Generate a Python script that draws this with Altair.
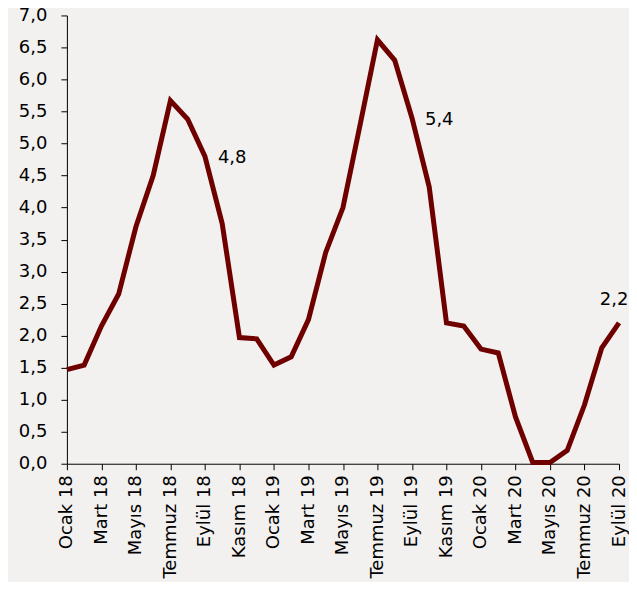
import altair as alt
import pandas as pd

months = ["Ocak", "Şubat", "Mart", "Nisan", "Mayıs", "Haziran", "Temmuz",
          "Ağustos", "Eylül", "Ekim", "Kasım", "Aralık"]
periods = [f"{months[i % 12]} {18 + i // 12}" for i in range(33)]
values = [1.47, 1.54, 2.15, 2.65, 3.70, 4.50, 5.67, 5.38, 4.80, 3.75, 1.97,
          1.95, 1.54, 1.67, 2.25, 3.30, 4.00, 5.30, 6.62, 6.30, 5.40, 4.32,
          2.20, 2.15, 1.79, 1.73, 0.73, 0.02, 0.02, 0.21, 0.92, 1.81, 2.20]
label_periods = ["Eylül 18", "Eylül 19", "Eylül 20"]
label_texts = ["4,8", "5,4", "2,2"]
tick_periods = periods[::2]

df = pd.DataFrame({"period": periods, "value": values})
lab = pd.DataFrame({"period": label_periods, "text": label_texts,
                    "value": [values[periods.index(p)] for p in label_periods]})

FONT = "DejaVu Sans"
FS = 18
x = alt.X("period:N", sort=periods, title=None,
          scale=alt.Scale(type="point", padding=0),
          axis=alt.Axis(values=tick_periods, labelAngle=-90, labelAlign="right",
                        labelBaseline="middle", labelPadding=5, tickSize=6,
                        labelFontSize=FS, labelFont=FONT, labelColor="black",
                        domainColor="black", tickColor="black", grid=False))
y = alt.Y("value:Q", title=None,
          scale=alt.Scale(domain=[0, 7], nice=False),
          axis=alt.Axis(values=[i * 0.5 for i in range(15)],
                        labelExpr="replace(format(datum.value, '.1f'), '.', ',')",
                        labelPadding=14, tickSize=6, labelFontSize=FS,
                        labelFont=FONT, labelColor="black",
                        domainColor="black", tickColor="black", grid=False))

line = alt.Chart(df).mark_line(color="#6E0000", strokeWidth=5,
                               strokeJoin="miter").encode(x=x, y=y)

side = alt.Chart(lab[lab.text != "2,2"]).mark_text(
    align="left", baseline="middle", dx=13, dy=2, fontSize=FS, font=FONT,
    color="black").encode(x=x, y=y, text="text:N")
top = alt.Chart(lab[lab.text == "2,2"]).mark_text(
    align="center", baseline="bottom", dx=-5, dy=-14, fontSize=FS, font=FONT,
    color="black").encode(x=x, y=y, text="text:N")

chart = alt.layer(line, side, top).properties(
    width=553, height=449,
    autosize=alt.AutoSizeParams(type="none"),
    padding={"left": 59, "top": 7, "right": 10, "bottom": 118},
    background="#F3F1F0",
).configure_view(stroke=None)

chart.save("out.html", embed_options={"renderer": "svg", "actions": False})
